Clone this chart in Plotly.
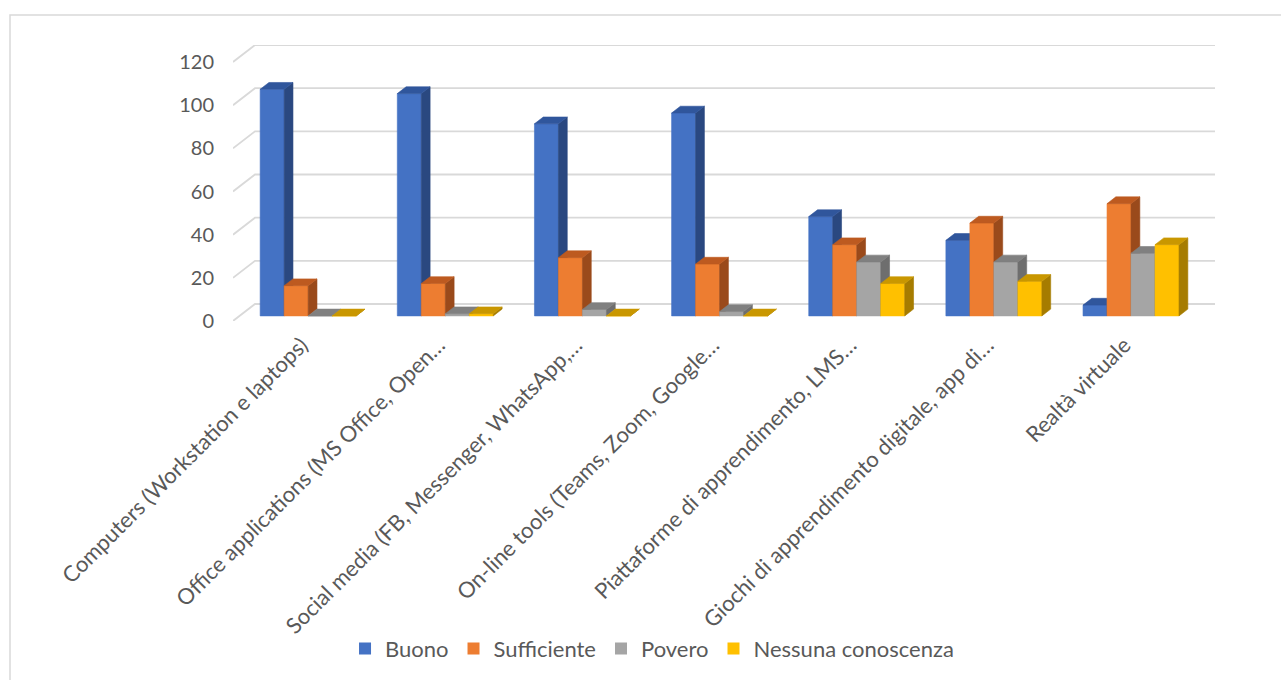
import plotly.graph_objects as go

# ---- data -------------------------------------------------------------
categories = [
    "Computers (Workstation e laptops)",
    "Office applications (MS Office, Open…",
    "Social media (FB, Messenger, WhatsApp,…",
    "On-line tools (Teams, Zoom, Google…",
    "Piattaforme di apprendimento, LMS…",
    "Giochi di apprendimento digitale, app di…",
    "Realtà virtuale",
]
series_names = ["Buono", "Sufficiente", "Povero", "Nessuna conoscenza"]
buono = [105, 103, 89, 94, 46, 35, 5]
sufficiente = [14, 15, 27, 24, 33, 43, 52]
povero = [0, 1, 3, 2, 25, 25, 29]
nessuna = [0, 1, 0, 0, 15, 16, 33]
y_ticks = [0, 20, 40, 60, 80, 100, 120]

# ---- styling ------------------------------------------------------------
front_colors = ["#4472C4", "#ED7D31", "#A5A5A5", "#FFC000"]
top_colors = ["#30569C", "#BD5A20", "#808080", "#C99700"]
side_colors = ["#2A4880", "#9A4A1B", "#6E6E6E", "#A67C00"]
grid_color = "#D9D9D9"
text_color = "#595959"
FONT = "Lato"

# ---- 3D projection (oblique, in axis units) -----------------------------
W, H = 1281, 680
ML, MR, MT, MB = 233, 66, 45, 359
plot_w = W - ML - MR
plot_h = H - MT - MB
depth_px_x, depth_px_y = 22, 17
n_cat = len(categories)
unit_x = (plot_w - depth_px_x) / n_cat
DX = depth_px_x / unit_x                        # wall depth along x
unit_y = (plot_h - depth_px_y) / y_ticks[-1]
DY = depth_px_y / unit_y                        # wall depth along y

bar_w = 24 / unit_x
front_d, back_d = 0.3, 0.7                      # bar front/back position in depth
FX, FY = front_d * DX, front_d * DY
ddx, ddy = (back_d - front_d) * DX, (back_d - front_d) * DY

fig = go.Figure()

# back-wall gridlines and left-wall diagonals
gx, gy = [], []
for v in y_ticks:
    gx += [-0.5, -0.5 + DX, n_cat - 0.5 + DX, None]
    gy += [v, v + DY, v + DY, None]
fig.add_trace(go.Scatter(x=gx, y=gy, mode="lines",
                         line=dict(color=grid_color, width=1.8),
                         hoverinfo="skip", showlegend=False, cliponaxis=False))

all_series = [buono, sufficiente, povero, nessuna]
for k, vals in enumerate(all_series):
    fx, fy, sx, sy, tx, ty = [], [], [], [], [], []
    for i, v in enumerate(vals):
        x0 = i + FX + (k - 2) * bar_w
        x1 = x0 + bar_w
        b = FY
        fx += [x0, x1, x1, x0, x0, None]
        fy += [b, b, b + v, b + v, b, None]
        sx += [x1, x1, x1 + ddx, x1 + ddx, x1, None]
        sy += [b, b + v, b + v + ddy, b + ddy, b, None]
        tx += [x0, x1, x1 + ddx, x0 + ddx, x0, None]
        ty += [b + v, b + v, b + v + ddy, b + v + ddy, b + v, None]
    for xs, ys, col in ((fx, fy, front_colors[k]),
                        (sx, sy, side_colors[k]),
                        (tx, ty, top_colors[k])):
        fig.add_trace(go.Scatter(
            x=xs, y=ys, mode="lines", fill="toself", fillcolor=col,
            line=dict(color=col, width=0.6),
            name=series_names[k], showlegend=False,
            hoverinfo="skip", cliponaxis=False))

# legend entries
for k, name in enumerate(series_names):
    fig.add_trace(go.Scatter(x=[None], y=[None], mode="markers", name=name,
                             marker=dict(symbol="square", size=12,
                                         color=front_colors[k])))

fig.update_layout(
    width=W, height=H,
    margin=dict(l=ML, r=MR, t=MT, b=MB, autoexpand=False),
    paper_bgcolor="white", plot_bgcolor="white",
    font=dict(family=FONT, size=20, color=text_color),
    xaxis=dict(range=[-0.5, n_cat - 0.5 + DX], tickvals=list(range(n_cat)),
               ticktext=categories, tickangle=-45, showgrid=False,
               zeroline=False, showline=False, ticks="", fixedrange=True,
               automargin=False,
               ticklabelstandoff=6, tickfont=dict(size=22, color=text_color)),
    yaxis=dict(range=[0, y_ticks[-1] + DY], tickvals=y_ticks, showgrid=False,
               zeroline=False, showline=False, ticks="", fixedrange=True,
               automargin=False,
               ticklabelstandoff=18, tickfont=dict(size=20, color=text_color)),
    legend=dict(orientation="h", xref="container", yref="container",
                x=0.509, y=0.046, xanchor="center", yanchor="middle",
                font=dict(size=22, color=text_color), itemwidth=30,
                bgcolor="rgba(0,0,0,0)"),
    shapes=[dict(type="rect", xref="paper", yref="paper",
                 xsizemode="pixel", ysizemode="pixel", xanchor=0, yanchor=1,
                 x0=10 - ML, x1=W + 10 - ML, y0=MT - 15, y1=-(H + 20 - MT),
                 line=dict(color="#D9D9D9", width=1.5), layer="below")],
)

fig.write_html("out.html")
